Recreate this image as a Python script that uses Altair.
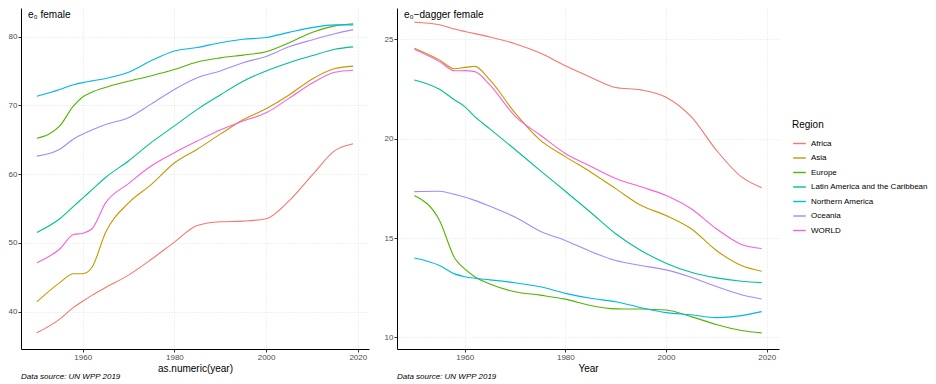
import altair as alt
import pandas as pd

YEARS = [1950, 1955, 1958, 1960, 1962, 1965, 1970, 1975, 1980, 1985,
         1990, 1995, 2000, 2005, 2010, 2015, 2019]
REGIONS = ["Africa", "Asia", "Europe", "Latin America and the Caribbean",
           "Northern America", "Oceania", "WORLD"]
COLORS = ["#F8766D", "#C49A00", "#53B400", "#00C094", "#00B6EB", "#A58AFF", "#FB61D7"]

# life expectancy at birth, female
E0_AFRICA = [36.9, 38.9, 40.6, 41.5, 42.35, 43.5, 45.3, 47.6, 50.1, 52.5, 53.05, 53.15, 53.5, 56.1, 59.8, 63.4, 64.4]
E0_ASIA = [41.4, 44.2, 45.5, 45.5, 46.4, 51.5, 55.8, 58.5, 61.6, 63.6, 65.8, 67.9, 69.5, 71.5, 73.8, 75.35, 75.7]
E0_EUROPE = [65.2, 67.0, 69.9, 71.2, 71.9, 72.6, 73.5, 74.3, 75.2, 76.3, 76.9, 77.3, 77.8, 79.1, 80.6, 81.55, 81.85]
E0_LATAM = [51.5, 53.5, 55.3, 56.5, 57.7, 59.5, 61.9, 64.6, 67.0, 69.4, 71.5, 73.5, 75.0, 76.2, 77.2, 78.15, 78.5]
E0_NAM = [71.3, 72.3, 73.0, 73.3, 73.55, 73.9, 74.8, 76.5, 77.9, 78.4, 79.1, 79.6, 79.85, 80.6, 81.3, 81.7, 81.7]
E0_OCEANIA = [62.6, 63.6, 65.1, 65.8, 66.4, 67.2, 68.2, 70.2, 72.3, 74.0, 75.0, 76.2, 77.1, 78.5, 79.5, 80.4, 81.0]
E0_WORLD = [47.1, 49.1, 51.2, 51.4, 52.0, 55.8, 58.6, 61.2, 63.1, 64.8, 66.4, 67.7, 68.9, 71.0, 73.2, 74.8, 75.1]

# e0-dagger, female
ED_AFRICA = [25.86, 25.74, 25.52, 25.4, 25.29, 25.12, 24.78, 24.31, 23.67, 23.1, 22.58, 22.46, 22.09, 21.11, 19.43, 18.08, 17.54]
ED_ASIA = [24.56, 23.97, 23.52, 23.59, 23.64, 22.96, 21.3, 19.93, 19.1, 18.33, 17.49, 16.65, 16.14, 15.47, 14.38, 13.62, 13.33]
ED_EUROPE = [17.15, 15.89, 14.0, 13.45, 13.06, 12.69, 12.3, 12.13, 11.93, 11.61, 11.44, 11.43, 11.38, 11.05, 10.65, 10.35, 10.23]
ED_LATAM = [22.96, 22.49, 21.95, 21.62, 21.11, 20.5, 19.46, 18.4, 17.36, 16.3, 15.22, 14.38, 13.74, 13.28, 13.0, 12.83, 12.76]
ED_NAM = [14.0, 13.62, 13.2, 13.06, 12.98, 12.9, 12.75, 12.55, 12.22, 11.97, 11.8, 11.5, 11.25, 11.14, 11.0, 11.1, 11.3]
ED_OCEANIA = [17.34, 17.36, 17.2, 17.07, 16.9, 16.6, 16.06, 15.35, 14.88, 14.33, 13.87, 13.62, 13.4, 13.03, 12.56, 12.15, 11.94]
ED_WORLD = [24.51, 23.89, 23.42, 23.43, 23.38, 22.71, 21.14, 20.19, 19.26, 18.62, 18.0, 17.58, 17.15, 16.48, 15.47, 14.68, 14.48]

E0 = [E0_AFRICA, E0_ASIA, E0_EUROPE, E0_LATAM, E0_NAM, E0_OCEANIA, E0_WORLD]
ED = [ED_AFRICA, ED_ASIA, ED_EUROPE, ED_LATAM, ED_NAM, ED_OCEANIA, ED_WORLD]


def long_df(series):
    rows = []
    for reg, vals in zip(REGIONS, series):
        for yr, v in zip(YEARS, vals):
            rows.append({"year": yr, "value": v, "region": reg})
    return pd.DataFrame(rows)


color = alt.Color("region:N", scale=alt.Scale(domain=REGIONS, range=COLORS),
                  legend=alt.Legend(title="Region"))

H = 341


def panel(df, width, xtitle, ydomain, yticks, title):
    base = alt.Chart(df).mark_line(interpolate="monotone", strokeWidth=1.1).encode(
        x=alt.X("year:Q", title=xtitle,
                scale=alt.Scale(domain=[1946.55, 2022.45], nice=False, zero=False),
                axis=alt.Axis(values=[1960, 1980, 2000, 2020], format="d")),
        y=alt.Y("value:Q", title=None,
                scale=alt.Scale(domain=ydomain, nice=False, zero=False),
                axis=alt.Axis(values=yticks)),
        color=color,
    )
    ttl = alt.Chart(pd.DataFrame({"t": [title]})).mark_text(
        align="left", baseline="top", fontSize=10, font="Liberation Sans", color="black"
    ).encode(text="t:N", x=alt.value(7), y=alt.value(2))
    cap = alt.Chart(pd.DataFrame({"t": ["Data source: UN WPP 2019"]})).mark_text(
        align="left", baseline="middle", fontSize=8, fontStyle="italic",
        font="Liberation Sans", color="black"
    ).encode(text="t:N", x=alt.value(0), y=alt.value(H + 28))
    return alt.layer(base, ttl, cap).properties(width=width, height=H)


left = panel(long_df(E0), 348, "as.numeric(year)", [34.55, 84.15], [40, 50, 60, 70, 80], "e₀ female")
right = panel(long_df(ED), 382, "Year", [9.42, 26.58], [10, 15, 20, 25], "e₀−dagger female")

chart = alt.hconcat(left, right, spacing=15).properties(
    padding={"left": 0, "top": 0, "right": 0, "bottom": 0}
).configure_view(stroke=None).configure_axis(
    domainColor="black", domainWidth=1,
    tickColor="#333333", tickSize=3,
    labelFont="Liberation Sans", labelFontSize=8, labelColor="#4d4d4d", labelPadding=1,
    gridColor="#dcdcdc", gridDash=[1, 2], gridWidth=0.8,
    titleFont="Liberation Sans", titleFontSize=10, titleFontWeight="normal",
    titleColor="black", titlePadding=2,
).configure_legend(
    orient="none", legendX=771, legendY=112,
    titleFont="Liberation Sans", titleFontSize=10, titleFontWeight="normal", titleColor="black",
    titlePadding=6,
    labelFont="Liberation Sans", labelFontSize=8, labelColor="black", labelOffset=4,
    symbolType="stroke", symbolSize=160, symbolStrokeWidth=1.4, rowPadding=2.5,
)

chart.save("out.html", embed_options={"renderer": "svg", "actions": False})
